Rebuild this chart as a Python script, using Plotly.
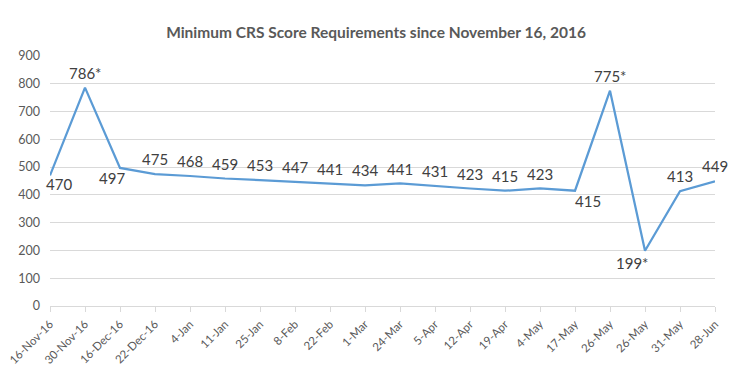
import plotly.graph_objects as go

categories = ["16-Nov-16", "30-Nov-16", "16-Dec-16", "22-Dec-16", "4-Jan", "11-Jan",
              "25-Jan", "8-Feb", "22-Feb", "1-Mar", "24-Mar", "5-Apr", "12-Apr",
              "19-Apr", "4-May", "17-May", "26-May", "26-May", "31-May", "28-Jun"]
scores = [470, 786, 497, 475, 468, 459, 453, 447, 441, 434, 441, 431, 423, 415,
          423, 415, 775, 199, 413, 449]
labels = ["470", "786*", "497", "475", "468", "459", "453", "447", "441", "434", "441",
          "431", "423", "415", "423", "415", "775*", "199*", "413", "449"]

# label offsets in pixels (style only)
x_shift = [9, 0, -8] + [0] * 12 + [13, 0, -13, 0, 0]
y_shift = [-9, 15, -10] + [15] * 12 + [-10, 15, -12, 15, 15]

FONT = "Lato, Open Sans, sans-serif"
x = list(range(len(categories)))

fig = go.Figure()
fig.add_trace(go.Scatter(
    x=x, y=scores, mode="lines",
    line=dict(color="#5b9bd5", width=2.25),
    hoverinfo="skip", showlegend=False,
))

for xi, yi, lab, dx, dy in zip(x, scores, labels, x_shift, y_shift):
    fig.add_annotation(x=xi, y=yi, text=lab, showarrow=False, xshift=dx, yshift=dy,
                       xanchor="center", yanchor="middle",
                       font=dict(family=FONT, size=15, color="#404040"))

# page body adds an 8px offset; size and margins compensate for it
fig.update_layout(
    width=745, height=372,
    margin=dict(l=42, r=38, t=48, b=74),
    paper_bgcolor="white", plot_bgcolor="white",
    title=dict(text="<b>Minimum CRS Score Requirements since November 16, 2016</b>",
               x=(376 - 8) / 745, xanchor="center", y=1 - (33 - 8) / 372, yanchor="middle",
               font=dict(family=FONT, size=15.5, color="#595959")),
    xaxis=dict(tickmode="array", tickvals=x, ticktext=categories, range=[0, len(x) - 1],
               tickangle=-45, showgrid=False, showline=True, linecolor="#d9d9d9",
               ticks="outside", ticklen=5, tickcolor="#d9d9d9", zeroline=False,
               automargin=False, ticklabelstandoff=1, ticklabeloverflow="allow",
               tickfont=dict(family=FONT, size=11.5, color="#595959")),
    yaxis=dict(range=[0, 900], dtick=100, showgrid=True, gridcolor="#d9d9d9",
               zeroline=False, showline=False, ticks="", ticklabelstandoff=9,
               automargin=False,
               tickfont=dict(family=FONT, size=12.5, color="#595959")),
)

fig.write_html("out.html")
